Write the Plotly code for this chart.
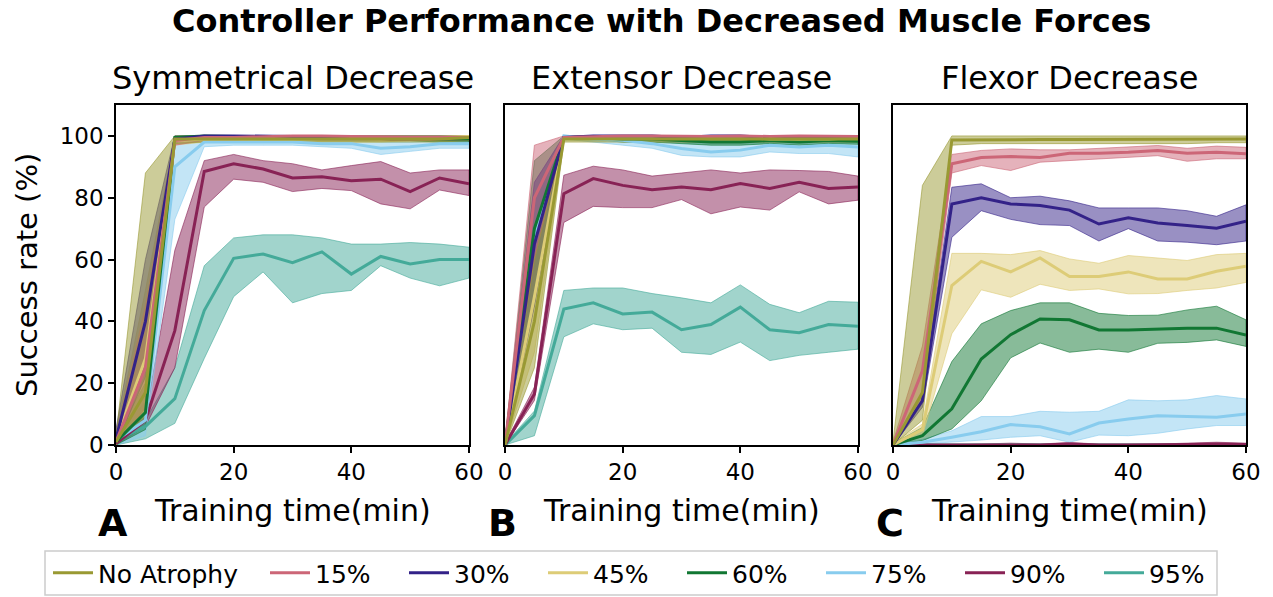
import plotly.graph_objects as go

W, H = 1273, 597
x_min = [0, 5, 10, 15, 20, 25, 30, 35, 40, 45, 50, 55, 60]
series_names = ["No Atrophy", "15%", "30%", "45%", "60%", "75%", "90%", "95%"]
series_colors = ["#999933", "#CC6677", "#332288", "#DDCC77", "#117733", "#88CCEE", "#882255", "#44AA99"]
panel_titles = ["Symmetrical Decrease", "Extensor Decrease", "Flexor Decrease"]
panel_letters = ["A", "B", "C"]
x_ticks = [0, 20, 40, 60]
y_ticks = [0, 20, 40, 60, 80, 100]

# ---------- Panel A: symmetrical decrease (mean, lower, upper) ----------
A_noatr_mean = [1, 17, 99, 99, 99, 99, 99, 99, 99, 99, 99, 99, 99.5]
A_noatr_lo = [0, 8, 97.5, 98, 98, 98, 98, 98, 98, 98, 98, 98, 98.5]
A_noatr_up = [3, 88, 100, 100, 100, 100, 100, 100, 100, 100, 100, 100, 100]
A_15_mean = [1, 25, 98.5, 99.5, 99.5, 99.8, 100, 100, 99.8, 99.5, 99.5, 99.5, 99.5]
A_15_lo = [0, 12, 97, 98.5, 98.5, 99, 99.5, 99.5, 99, 98.5, 98.5, 98.5, 98.5]
A_15_up = [3, 45, 99.5, 100, 100, 100, 100, 100, 100, 100, 100, 100, 100]
A_30_mean = [2, 40, 99, 100, 100, 100, 99.8, 99.5, 99.5, 99.5, 99.5, 99.5, 99.5]
A_30_lo = [0, 22, 98, 99.5, 99.5, 99.5, 99, 98.5, 98.5, 98.5, 98.5, 98.5, 98.5]
A_30_up = [5, 60, 100, 100, 100, 100, 100, 100, 100, 100, 100, 100, 100]
A_45_mean = [1.5, 28, 98.5, 99, 99, 99, 99, 99, 99, 99, 99.5, 99.5, 99.8]
A_45_lo = [0, 10, 97, 98, 98, 98, 98, 98, 98, 98, 98.5, 98.5, 99]
A_45_up = [4, 50, 99.5, 100, 100, 100, 100, 100, 100, 100, 100, 100, 100]
A_60_mean = [1, 10.5, 99.5, 100, 99.8, 99.5, 99.5, 99.5, 99.5, 99.5, 99.5, 99, 99]
A_60_lo = [0, 5, 98.5, 99.5, 99, 98.5, 98.5, 98.5, 98.5, 98.5, 98.5, 98, 98]
A_60_up = [3, 20, 100, 100, 100, 100, 100, 100, 100, 100, 100, 100, 100]
A_75_mean = [1.5, 8, 90, 98, 98, 98, 98, 97.5, 97.5, 96, 96.5, 97.5, 97.5]
A_75_lo = [0, 3, 73, 96.5, 97, 97, 97, 96.5, 96, 94, 95, 96, 96]
A_75_up = [3, 14, 98, 99, 99, 99, 99, 98.5, 98.5, 98, 98, 98.5, 98.5]
A_90_mean = [0.5, 8, 37, 88.5, 91, 89.3, 86.4, 86.8, 85.5, 86, 82, 86.4, 84.5]
A_90_lo = [0, 6, 25, 77, 86, 85, 82, 83, 82.3, 78, 76.4, 82.5, 80.7]
A_90_up = [1.5, 9, 63, 92, 94, 92, 91, 89, 90.4, 91.7, 88, 89, 89]
A_95_mean = [1.5, 6, 15, 43.5, 60.4, 61.8, 59, 62.5, 55.3, 61, 58.6, 60, 60]
A_95_lo = [0, 2, 7, 28, 48, 56, 46, 49, 50, 58, 54, 51.5, 54]
A_95_up = [3, 8, 25, 58, 67, 68, 68, 67, 65, 65, 65.5, 65, 64]

# ---------- Panel B: extensor decrease ----------
B_noatr_mean = [0, 40, 99, 99, 99, 99, 99, 99, 99, 99, 99, 99, 99]
B_noatr_lo = [0, 25, 98, 98, 98, 98, 98, 98, 98, 98, 98, 98, 98]
B_noatr_up = [1, 60, 100, 100, 100, 100, 100, 100, 100, 100, 100, 100, 100]
B_15_mean = [0, 80, 99.5, 99.8, 100, 100, 99.8, 99.8, 100, 99.8, 100, 100, 99.8]
B_15_lo = [0, 60, 99, 99.5, 99.5, 99.5, 99.5, 99.5, 99.5, 99.5, 99.5, 99.5, 99.5]
B_15_up = [1, 97, 100, 100, 100, 100, 100, 100, 100, 100, 100, 100, 100]
B_30_mean = [0, 65, 99.5, 100, 100, 100, 99.5, 100, 100, 99.5, 99.5, 99.8, 99.8]
B_30_lo = [0, 45, 99, 99.5, 99.5, 99.5, 99, 99.5, 99.5, 99, 99, 99.5, 99.5]
B_30_up = [1, 85, 100, 100, 100, 100, 100, 100, 100, 100, 100, 100, 100]
B_45_mean = [0, 48, 99.5, 99.5, 99.5, 99.5, 99.8, 99.5, 99.5, 99, 99, 99, 99.5]
B_45_lo = [0, 30, 99, 99, 99, 99, 99.5, 99, 99, 98.5, 98.5, 98.5, 99]
B_45_up = [1, 70, 100, 100, 100, 100, 100, 100, 100, 99.5, 99.5, 99.5, 100]
B_60_mean = [0, 70, 99.5, 99.5, 99, 99, 98.5, 98, 98, 98.5, 98, 98.5, 98.3]
B_60_lo = [0, 50, 99, 99, 98, 98, 97.5, 97, 97, 97.5, 97, 97.5, 97.3]
B_60_up = [1, 92, 100, 100, 100, 100, 99.5, 99, 99, 99.5, 99, 99.5, 99.3]
B_75_mean = [0, 67, 100, 99, 98.6, 97.5, 95.9, 94.8, 95.4, 97, 96.4, 97, 96.4]
B_75_lo = [0, 50, 99, 98, 97, 96, 93.7, 93.2, 93.2, 94.8, 94.3, 94.3, 93.2]
B_75_up = [1, 85, 100, 100, 99.5, 99, 98.5, 98, 98, 98.5, 98.5, 98.5, 98.5]
B_90_mean = [0, 16.5, 81.3, 86.2, 84, 82.6, 83.5, 82.6, 84.6, 83, 85, 83, 83.5]
B_90_lo = [0, 14.4, 72, 77.2, 76.8, 76.8, 79.4, 74.8, 77, 76, 81.9, 78, 79.2]
B_90_up = [0.5, 18.7, 87.3, 90.2, 89, 87, 88, 89, 88, 89, 88.8, 88.5, 87]
B_95_mean = [0, 9.5, 44, 46, 42.4, 43, 37.3, 39, 44.6, 37.3, 36.3, 39, 38.4]
B_95_lo = [0, 3, 35, 39.2, 37.3, 37.8, 30, 29.3, 33.3, 27.3, 29, 30, 31]
B_95_up = [0.5, 11, 50, 50.8, 50.8, 49, 47.6, 46, 51.8, 45.5, 42.8, 46.5, 46.2]

# ---------- Panel C: flexor decrease ----------
C_noatr_mean = [0, 17, 98.7, 98.8, 98.8, 98.8, 98.8, 98.8, 98.8, 98.8, 98.8, 99, 99]
C_noatr_lo = [0, 8, 97, 97.5, 97.5, 97.5, 97.5, 97.5, 97.5, 97.5, 97.5, 97.8, 97.8]
C_noatr_up = [1, 84, 100, 100, 100, 100, 100, 100, 100, 100, 100, 100, 100]
C_15_mean = [0, 24, 91, 93, 93.3, 93, 94.4, 94.4, 94.7, 95.3, 94.4, 94.7, 94.2]
C_15_lo = [0, 15, 88, 90.4, 88.8, 91.5, 92.2, 92.6, 93.1, 93.6, 91.8, 92.6, 92.6]
C_15_up = [1, 32, 94, 95.3, 95.8, 95.5, 95.5, 96, 96.5, 96.9, 96, 96.7, 96.3]
C_30_mean = [0, 14.3, 78, 80, 78, 77.5, 76, 71.5, 73.5, 71.8, 71, 70.1, 72.4]
C_30_lo = [0, 12.2, 67.2, 75.8, 73, 71.3, 71, 66, 70, 66, 65.6, 64.8, 66]
C_30_up = [0.5, 16.5, 83.4, 84.5, 80, 80.5, 79, 76.7, 76.7, 76.7, 75.8, 74, 77.7]
C_45_mean = [0, 5, 51.6, 59.4, 56, 60.5, 54.5, 54.5, 56, 53.7, 53.7, 56.2, 57.8]
C_45_lo = [0, 3, 36, 50.2, 47.8, 52, 50, 50.5, 48.9, 49, 50, 50.8, 52.6]
C_45_up = [0.5, 6.8, 62, 62, 61.6, 62.9, 60.2, 58.8, 61.3, 60.5, 59.7, 61.6, 62]
C_60_mean = [0, 3, 11.7, 27.8, 35.7, 40.8, 40.5, 37.2, 37.2, 37.5, 37.8, 37.8, 35.6]
C_60_lo = [0, 1.4, 5.2, 14.3, 28.2, 33, 30, 31, 30, 32.9, 33.2, 34, 31.9]
C_60_up = [0.5, 5.7, 27, 39.2, 43.5, 46, 46, 42.6, 41.9, 42, 43.7, 44.9, 40.5]
C_75_mean = [0, 0.9, 2.5, 4.3, 6.6, 5.9, 3.6, 7.1, 8.4, 9.5, 9.2, 9, 10]
C_75_lo = [0, 0.3, 0.9, 1.6, 2.5, 3, 0.9, 3.2, 3, 3.8, 5.2, 6.3, 6.3]
C_75_up = [0.3, 1.8, 4.6, 9.2, 9.2, 10.9, 10.6, 10.9, 14.6, 14.3, 14.6, 16, 14.9]
C_90_mean = [0, 0, 0, 0, 0.2, 0, 0.3, 0, 0, 0, 0.2, 0.3, 0.2]
C_90_lo = [0, 0, 0, 0, 0, 0, 0, 0, 0, 0, 0, 0, 0]
C_90_up = [0, 0, 0, 0.3, 0.6, 0.3, 0.8, 0.3, 0.3, 0.3, 0.6, 0.9, 0.6]
C_95_mean = [0, 0, 0, 0, 0, 0, 0, 0, 0, 0, 0, 0, 0]
C_95_lo = [0, 0, 0, 0, 0, 0, 0, 0, 0, 0, 0, 0, 0]
C_95_up = [0, 0, 0.2, 0.2, 0.2, 0.2, 0.2, 0.2, 0.2, 0.2, 0.2, 0.2, 0.2]

panels = [
    [(A_noatr_mean, A_noatr_lo, A_noatr_up), (A_15_mean, A_15_lo, A_15_up), (A_30_mean, A_30_lo, A_30_up),
     (A_45_mean, A_45_lo, A_45_up), (A_60_mean, A_60_lo, A_60_up), (A_75_mean, A_75_lo, A_75_up),
     (A_90_mean, A_90_lo, A_90_up), (A_95_mean, A_95_lo, A_95_up)],
    [(B_noatr_mean, B_noatr_lo, B_noatr_up), (B_15_mean, B_15_lo, B_15_up), (B_30_mean, B_30_lo, B_30_up),
     (B_45_mean, B_45_lo, B_45_up), (B_60_mean, B_60_lo, B_60_up), (B_75_mean, B_75_lo, B_75_up),
     (B_90_mean, B_90_lo, B_90_up), (B_95_mean, B_95_lo, B_95_up)],
    [(C_noatr_mean, C_noatr_lo, C_noatr_up), (C_15_mean, C_15_lo, C_15_up), (C_30_mean, C_30_lo, C_30_up),
     (C_45_mean, C_45_lo, C_45_up), (C_60_mean, C_60_lo, C_60_up), (C_75_mean, C_75_lo, C_75_up),
     (C_90_mean, C_90_lo, C_90_up), (C_95_mean, C_95_lo, C_95_up)],
]


def rgba(hexc, a):
    h = hexc.lstrip("#")
    r, g, b = int(h[0:2], 16), int(h[2:4], 16), int(h[4:6], 16)
    return f"rgba({r},{g},{b},{a})"


FONT = "DejaVu Sans"
fig = go.Figure()

x_domains = [(116 / W, 469 / W), (505 / W, 858 / W), (893 / W, 1246 / W)]
y_domain = (1 - 445 / H, 1 - 105 / H)

for p, data in enumerate(panels):
    xa = "x" if p == 0 else f"x{p + 1}"
    ya = "y" if p == 0 else f"y{p + 1}"
    for i in reversed(range(len(series_names))):
        mean, lo, up = data[i]
        col = series_colors[i]
        fig.add_trace(go.Scatter(
            x=x_min + x_min[::-1], y=up + lo[::-1], fill="toself",
            fillcolor=rgba(col, 0.5), line=dict(color=rgba(col, 0.6), width=1),
            mode="lines", hoverinfo="skip", showlegend=False, xaxis=xa, yaxis=ya,
        ))
    for i in reversed(range(len(series_names))):
        mean, lo, up = data[i]
        col = series_colors[i]
        fig.add_trace(go.Scatter(
            x=x_min, y=mean, mode="lines", line=dict(color=col, width=3),
            name=series_names[i], legendgroup=series_names[i],
            showlegend=(p == 0), legend=("legend" if i == 0 else "legend2"),
            legendrank=i, xaxis=xa, yaxis=ya,
        ))

axis_common = dict(showline=True, mirror=True, linecolor="black", linewidth=1.5,
                   ticks="outside", ticklen=6, tickwidth=1.5, tickcolor="black",
                   showgrid=False, zeroline=False,
                   tickfont=dict(family=FONT, size=23, color="black"))

layout = dict(
    width=W, height=H, plot_bgcolor="white", paper_bgcolor="white",
    margin=dict(l=0, r=0, t=0, b=0, autoexpand=False),
    font=dict(family=FONT, color="black"),
)
for p in range(3):
    xs = "xaxis" if p == 0 else f"xaxis{p + 1}"
    ys = "yaxis" if p == 0 else f"yaxis{p + 1}"
    layout[xs] = dict(axis_common, domain=list(x_domains[p]), range=[0, 60], tickvals=x_ticks,
                      anchor=("y" if p == 0 else f"y{p + 1}"))
    yd = dict(axis_common, domain=list(y_domain), range=[0, 110], tickvals=y_ticks,
              anchor=("x" if p == 0 else f"x{p + 1}"))
    if p > 0:
        yd["showticklabels"] = False
        yd["ticks"] = ""
    layout[ys] = yd

layout["legend"] = dict(orientation="h", x=48 / W, y=1 - 573 / H, xanchor="left", yanchor="middle",
                        font=dict(family=FONT, size=25, color="black"), bgcolor="rgba(0,0,0,0)",
                        borderwidth=0, itemwidth=40)
layout["legend2"] = dict(orientation="h", x=265 / W, y=1 - 573 / H, xanchor="left", yanchor="middle",
                         font=dict(family=FONT, size=25, color="black"), bgcolor="rgba(0,0,0,0)",
                         borderwidth=0, itemwidth=40, entrywidth=84, entrywidthmode="pixels")
fig.update_layout(**layout)

# legend frame
fig.add_shape(type="rect", xref="paper", yref="paper", x0=45 / W, x1=1217 / W,
              y0=1 - 595 / H, y1=1 - 551 / H, line=dict(color="#cccccc", width=1.5),
              fillcolor="rgba(255,255,255,0.8)", layer="below")

ann = []
ann.append(dict(text="<b>Controller Performance with Decreased Muscle Forces</b>", x=661 / W, y=1 - 21 / H,
                xref="paper", yref="paper", showarrow=False, xanchor="center", yanchor="middle",
                font=dict(family=FONT, size=32, color="black")))
for p in range(3):
    cx = (x_domains[p][0] + x_domains[p][1]) / 2
    ann.append(dict(text=panel_titles[p], x=cx, y=1 - 78 / H, xref="paper", yref="paper",
                    showarrow=False, xanchor="center", yanchor="middle",
                    font=dict(family=FONT, size=32, color="black")))
    ann.append(dict(text="Training time(min)", x=cx, y=1 - 510 / H, xref="paper", yref="paper",
                    showarrow=False, xanchor="center", yanchor="middle",
                    font=dict(family=FONT, size=30, color="black")))
    ann.append(dict(text=f"<b>{panel_letters[p]}</b>", x=(x_domains[p][0] * W - 3) / W, y=1 - 523 / H,
                    xref="paper", yref="paper", showarrow=False, xanchor="center", yanchor="middle",
                    font=dict(family=FONT, size=38, color="black")))
ann.append(dict(text="Success rate (%)", x=27 / W, y=1 - 275 / H, xref="paper", yref="paper",
                showarrow=False, textangle=-90, xanchor="center", yanchor="middle",
                font=dict(family=FONT, size=29, color="black")))
fig.update_layout(annotations=ann)

fig.write_html("out.html", config={"displayModeBar": False},
               post_script="document.body.style.margin='0px';document.body.style.padding='0px';")
